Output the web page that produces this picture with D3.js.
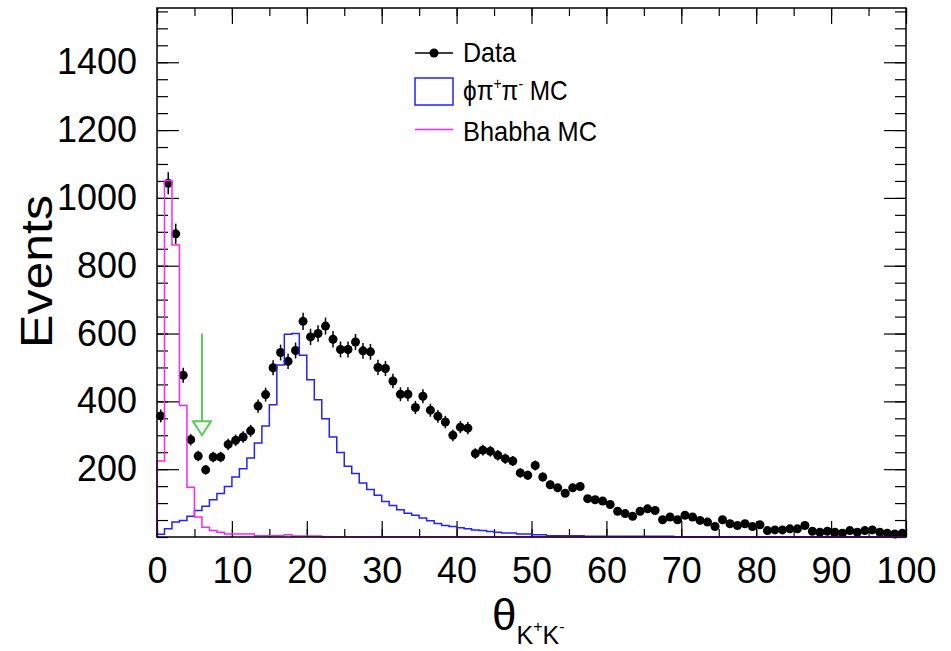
<!DOCTYPE html>
<html>
<head>
<meta charset="utf-8">
<script src="https://cdn.jsdelivr.net/npm/d3@7"></script>
<style>
  body { margin: 0; background: #fff; }
  svg { font-family: "Liberation Sans", Arial, sans-serif; }
  .tick text { font-size: 36px; fill: #000; }
  .tick line { stroke: #000; stroke-width: 1.2; }
</style>
</head>
<body>
<svg id="plot" width="951" height="651"></svg>
<script>
// bin contents, 100 bins of width 1 from 0 to 100
var data_counts = [357,1043,894,477,287,239,198,236,236,273,
  285,295,313,386,420,499,544,518,550,636,
  590,600,622,583,553,553,575,549,546,500,
  497,460,421,421,382,415,374,356,339,300,
  324,321,246,256,253,241,231,224,189,182,
  211,177,154,145,129,145,149,113,110,106,
  96,76,69,61,76,83,78,51,59,51,
  64,59,49,44,31,51,39,34,39,31,
  36,19,21,21,24,24,34,17,14,17,
  14,11,19,14,19,21,14,11,9,11];

var phipipi_mc = [8,24,44,49,61,78,91,110,128,149,
  177,201,233,277,327,390,507,598,600,536,
  464,405,349,295,249,209,187,159,140,123,
  105,93,80,70,64,56,48,40,34,31,
  27,24,21,19,16,14,12,12,9,9,
  7,7,4,4,4,4,4,2,2,2,
  2,2,2,2,2,2,2,2,2,0,
  1,0,0,0,0,0,0,0,0,0,
  0,0,0,0,0,0,0,0,0,0,
  0,0,0,0,0,0,0,0,0,0];

var bhabha_mc = [224,1051,861,388,147,59,29,19,14,9,
  9,9,9,4,4,4,4,7,3,3,
  3,3,0,0,0,0,0,0,0,0,
  0,0,0,0,0,0,0,0,0,0,
  0,0,0,0,0,0,0,0,0,0,
  0,0,0,0,0,0,0,0,0,0,
  0,0,0,0,0,0,0,0,0,0,
  0,0,0,0,0,0,0,0,0,0,
  0,0,0,0,0,0,0,0,0,0,
  0,0,0,0,0,0,0,0,0,0];

var x_ticks = [0,10,20,30,40,50,60,70,80,90,100];
var y_ticks = [200,400,600,800,1000,1200,1400];

// cut arrow: x position, top and tip of the arrow
var cut_x = 6;
var cut_top = 600;
var cut_tip = 300;

var legend_labels = ["Data", "\u03d5\u03c0+\u03c0- MC", "Bhabha MC"];

var svg = d3.select("#plot");
var m_left = 157, m_right = 906, m_top = 8, m_bottom = 537;

var x = d3.scaleLinear().domain([0, 100]).range([m_left, m_right]);
var y = d3.scaleLinear().domain([0, 1560]).range([m_bottom, m_top]);

// minor ticks
var x_minor = d3.range(0, 101, 5);
var y_minor = d3.range(0, 1561, 50);

function add_axis(axis, tx, ty) {
  var g = svg.append("g")
    .attr("transform", "translate(" + tx + "," + ty + ")")
    .call(axis);
  g.select(".domain").remove();
  return g;
}

add_axis(d3.axisBottom(x).tickValues(x_minor).tickSizeInner(-8).tickSizeOuter(0).tickFormat(""), 0, m_bottom);
add_axis(d3.axisBottom(x).tickValues(x_ticks).tickSizeInner(-16).tickSizeOuter(0).tickPadding(20).tickFormat(d3.format("d")), 0, m_bottom);
add_axis(d3.axisTop(x).tickValues(x_minor).tickSizeInner(-8).tickSizeOuter(0).tickFormat(""), 0, m_top);
add_axis(d3.axisTop(x).tickValues(x_ticks).tickSizeInner(-16).tickSizeOuter(0).tickFormat(""), 0, m_top);

add_axis(d3.axisLeft(y).tickValues(y_minor).tickSizeInner(-11).tickSizeOuter(0).tickFormat(""), m_left, 0);
add_axis(d3.axisLeft(y).tickValues(y_ticks).tickSizeInner(-22).tickSizeOuter(0).tickPadding(20).tickFormat(d3.format("d")), m_left, 0);
add_axis(d3.axisRight(y).tickValues(y_minor).tickSizeInner(-11).tickSizeOuter(0).tickFormat(""), m_right, 0);
add_axis(d3.axisRight(y).tickValues(y_ticks).tickSizeInner(-22).tickSizeOuter(0).tickFormat(""), m_right, 0);

// data points with error bars
var pts = svg.append("g").attr("class", "data");
data_counts.forEach(function(v, i) {
  var err = Math.sqrt(v);
  pts.append("line")
    .attr("x1", x(i + 0.5)).attr("x2", x(i + 0.5))
    .attr("y1", y(v - err)).attr("y2", y(Math.min(v + err, 1560)))
    .attr("stroke", "#000").attr("stroke-width", 1.5);
  pts.append("line")
    .attr("x1", x(i)).attr("x2", x(i + 1))
    .attr("y1", y(v)).attr("y2", y(v))
    .attr("stroke", "#000").attr("stroke-width", 1.2);
  pts.append("circle")
    .attr("cx", x(i + 0.5)).attr("cy", y(v))
    .attr("r", 4.5).attr("fill", "#000");
});

// step outline for a histogram
function step_path(counts) {
  var p = [[x(0), y(0)]];
  counts.forEach(function(v, i) {
    p.push([x(i), y(v)]);
    p.push([x(i + 1), y(v)]);
  });
  p.push([x(counts.length), y(0)]);
  return d3.line()(p);
}

svg.append("path")
  .attr("d", step_path(phipipi_mc))
  .attr("fill", "none").attr("stroke", "#2222ff").attr("stroke-width", 1.5);

svg.append("path")
  .attr("d", step_path(bhabha_mc))
  .attr("fill", "none").attr("stroke", "#ff22ff").attr("stroke-width", 1.5);

// frame
svg.append("rect")
  .attr("x", m_left).attr("y", m_top)
  .attr("width", m_right - m_left).attr("height", m_bottom - m_top)
  .attr("fill", "none").attr("stroke", "#000").attr("stroke-width", 1.5);

// cut arrow
var head = 14, head_w = 9;
var ax = x(cut_x), tip = y(cut_tip);
svg.append("line")
  .attr("x1", ax).attr("x2", ax)
  .attr("y1", y(cut_top)).attr("y2", tip - head)
  .attr("stroke", "#55cc55").attr("stroke-width", 2);
svg.append("path")
  .attr("d", "M" + (ax - head_w) + "," + (tip - head) + "L" + (ax + head_w) + "," + (tip - head) + "L" + ax + "," + tip + "Z")
  .attr("fill", "#f4f4f4").attr("stroke", "#55cc55").attr("stroke-width", 2);

// legend
var lg = svg.append("g");
lg.append("line").attr("x1", 415).attr("x2", 453).attr("y1", 53).attr("y2", 53)
  .attr("stroke", "#000").attr("stroke-width", 1.5);
lg.append("circle").attr("cx", 434).attr("cy", 53).attr("r", 4.5).attr("fill", "#000");
lg.append("rect").attr("x", 415).attr("y", 78).attr("width", 38).attr("height", 27)
  .attr("fill", "#fff").attr("stroke", "#2222ff").attr("stroke-width", 1.5);
lg.append("line").attr("x1", 415).attr("x2", 453).attr("y1", 129.5).attr("y2", 129.5)
  .attr("stroke", "#ff22ff").attr("stroke-width", 1.5);

lg.append("text").attr("x", 463).attr("y", 62).attr("font-size", 28)
  .attr("textLength", 53).attr("lengthAdjust", "spacingAndGlyphs")
  .text(legend_labels[0]);

var t2 = lg.append("text").attr("transform", "translate(463,100) scale(0.87,1)").attr("font-size", 28);
t2.append("tspan").text("\u03d5\u03c0");
t2.append("tspan").attr("font-size", 16).attr("dy", -11).text("+");
t2.append("tspan").attr("dy", 11).text("\u03c0");
t2.append("tspan").attr("font-size", 16).attr("dy", -11).text("-");
t2.append("tspan").attr("dy", 11).text(" MC");

lg.append("text").attr("x", 463).attr("y", 141).attr("font-size", 28)
  .attr("textLength", 134).attr("lengthAdjust", "spacingAndGlyphs")
  .text(legend_labels[2]);

// axis titles
svg.append("text")
  .attr("transform", "translate(52,271.5) rotate(-90)")
  .attr("text-anchor", "middle").attr("font-size", 44)
  .attr("textLength", 153).attr("lengthAdjust", "spacingAndGlyphs")
  .text("Events");

var xt = svg.append("text").attr("x", 492).attr("y", 630).attr("font-size", 40);
xt.append("tspan").attr("font-size", 44).text("\u03b8");
xt.append("tspan").attr("font-size", 25).attr("dy", 14).text("K");
xt.append("tspan").attr("font-size", 16).attr("dy", -12).text("+");
xt.append("tspan").attr("font-size", 25).attr("dy", 12).text("K");
xt.append("tspan").attr("font-size", 16).attr("dy", -12).text("-");
</script>
</body>
</html>
